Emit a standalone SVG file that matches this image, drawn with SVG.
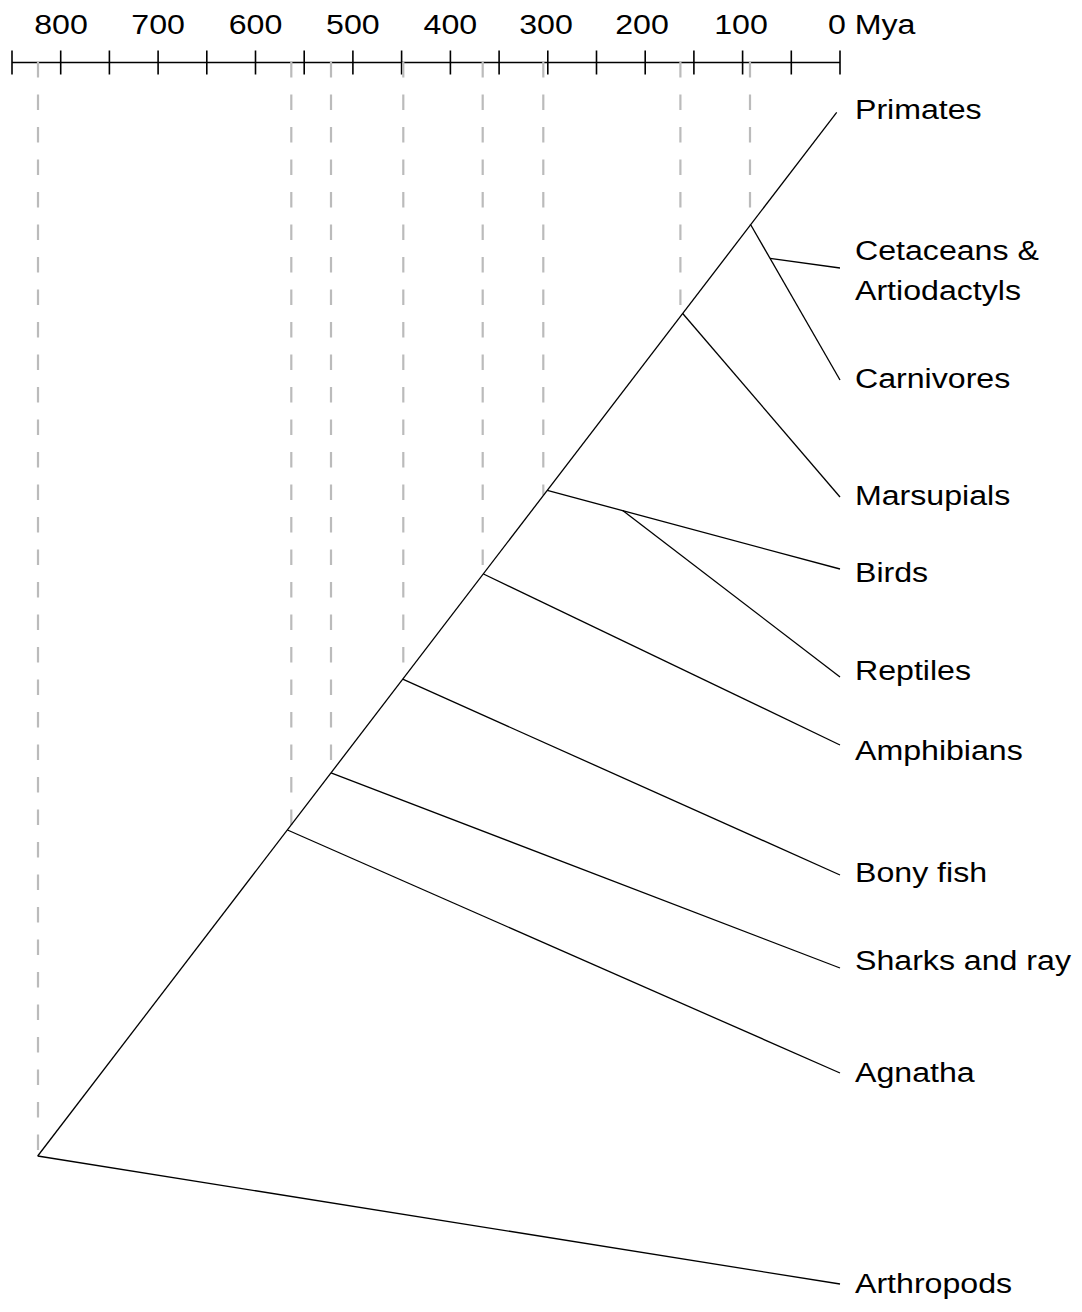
<svg xmlns="http://www.w3.org/2000/svg" width="1082" height="1312" viewBox="0 0 1082 1312">
<style>
text{font-family:"Liberation Sans",Arial,sans-serif;font-size:27px;fill:#000}
.ax{text-anchor:middle}
.axis line,.axis path{stroke:#000;stroke-width:1.6;fill:none}
.dash line{stroke:#bbb;stroke-width:2.2;stroke-dasharray:15.5 17}
.edges line{stroke:#000;stroke-width:1.3}
</style>
<rect width="1082" height="1312" fill="#fff"/>
<g id="time-axis" class="axis">
<line x1="12" y1="62.5" x2="840" y2="62.5"/>
<path d="M12 50.5V74.5M60.7 50.5V74.5M109.4 50.5V74.5M158.1 50.5V74.5M206.8 50.5V74.5M255.5 50.5V74.5M304.2 50.5V74.5M352.9 50.5V74.5M401.6 50.5V74.5M450.4 50.5V74.5M499.1 50.5V74.5M547.8 50.5V74.5M596.5 50.5V74.5M645.2 50.5V74.5M693.9 50.5V74.5M742.6 50.5V74.5M791.3 50.5V74.5M840 50.5V74.5"/>
<text class="ax" transform="matrix(1.19 0 0 1 61 34)">800</text>
<text class="ax" transform="matrix(1.19 0 0 1 158.1 34)">700</text>
<text class="ax" transform="matrix(1.19 0 0 1 255.5 34)">600</text>
<text class="ax" transform="matrix(1.19 0 0 1 352.9 34)">500</text>
<text class="ax" transform="matrix(1.19 0 0 1 450.4 34)">400</text>
<text class="ax" transform="matrix(1.19 0 0 1 546 34)">300</text>
<text class="ax" transform="matrix(1.19 0 0 1 642 34)">200</text>
<text class="ax" transform="matrix(1.19 0 0 1 741 34)">100</text>
<text transform="matrix(1.19 0 0 1 828 34)">0 Mya</text>
</g>
<g id="divergence-guides" class="dash">
<line x1="38" y1="62" x2="38" y2="1156"/>
<line x1="291.3" y1="62" x2="291.3" y2="825"/>
<line x1="331" y1="62" x2="331" y2="773"/>
<line x1="403.3" y1="62" x2="403.3" y2="679"/>
<line x1="482.7" y1="62" x2="482.7" y2="575"/>
<line x1="543.3" y1="62" x2="543.3" y2="495"/>
<line x1="680.4" y1="62" x2="680.4" y2="316"/>
<line x1="750" y1="62" x2="750" y2="225"/>
</g>
<g id="connectors" class="edges">
<line x1="37.7" y1="1156" x2="836.7" y2="112.3"/>
<line x1="37.7" y1="1156" x2="840" y2="1284"/>
<line x1="287.5" y1="830" x2="840" y2="1073"/>
<line x1="331" y1="772.9" x2="840" y2="968"/>
<line x1="402.7" y1="679.2" x2="840" y2="875"/>
<line x1="483.5" y1="574" x2="840" y2="745"/>
<line x1="547.3" y1="490.4" x2="840" y2="569"/>
<line x1="622.7" y1="510.6" x2="840" y2="677"/>
<line x1="682.7" y1="313.5" x2="840" y2="497"/>
<line x1="750.7" y1="224.7" x2="840" y2="380"/>
<line x1="770" y1="258.3" x2="840" y2="268"/>
</g>
<g id="primates"><text transform="matrix(1.19 0 0 1 855 119.3)">Primates</text></g>
<g id="cetaceans-artiodactyls"><text transform="matrix(1.19 0 0 1 855 260)">Cetaceans &amp;</text><text transform="matrix(1.19 0 0 1 855 300)">Artiodactyls</text></g>
<g id="carnivores"><text transform="matrix(1.19 0 0 1 855 388)">Carnivores</text></g>
<g id="marsupials"><text transform="matrix(1.19 0 0 1 855 505)">Marsupials</text></g>
<g id="birds"><text transform="matrix(1.19 0 0 1 855 582)">Birds</text></g>
<g id="reptiles"><text transform="matrix(1.19 0 0 1 855 680)">Reptiles</text></g>
<g id="amphibians"><text transform="matrix(1.19 0 0 1 855 760)">Amphibians</text></g>
<g id="bony-fish"><text transform="matrix(1.19 0 0 1 855 882)">Bony fish</text></g>
<g id="sharks-and-ray"><text transform="matrix(1.19 0 0 1 855 970)">Sharks and ray</text></g>
<g id="agnatha"><text transform="matrix(1.19 0 0 1 855 1082)">Agnatha</text></g>
<g id="arthropods"><text transform="matrix(1.19 0 0 1 855 1293)">Arthropods</text></g>
</svg>
